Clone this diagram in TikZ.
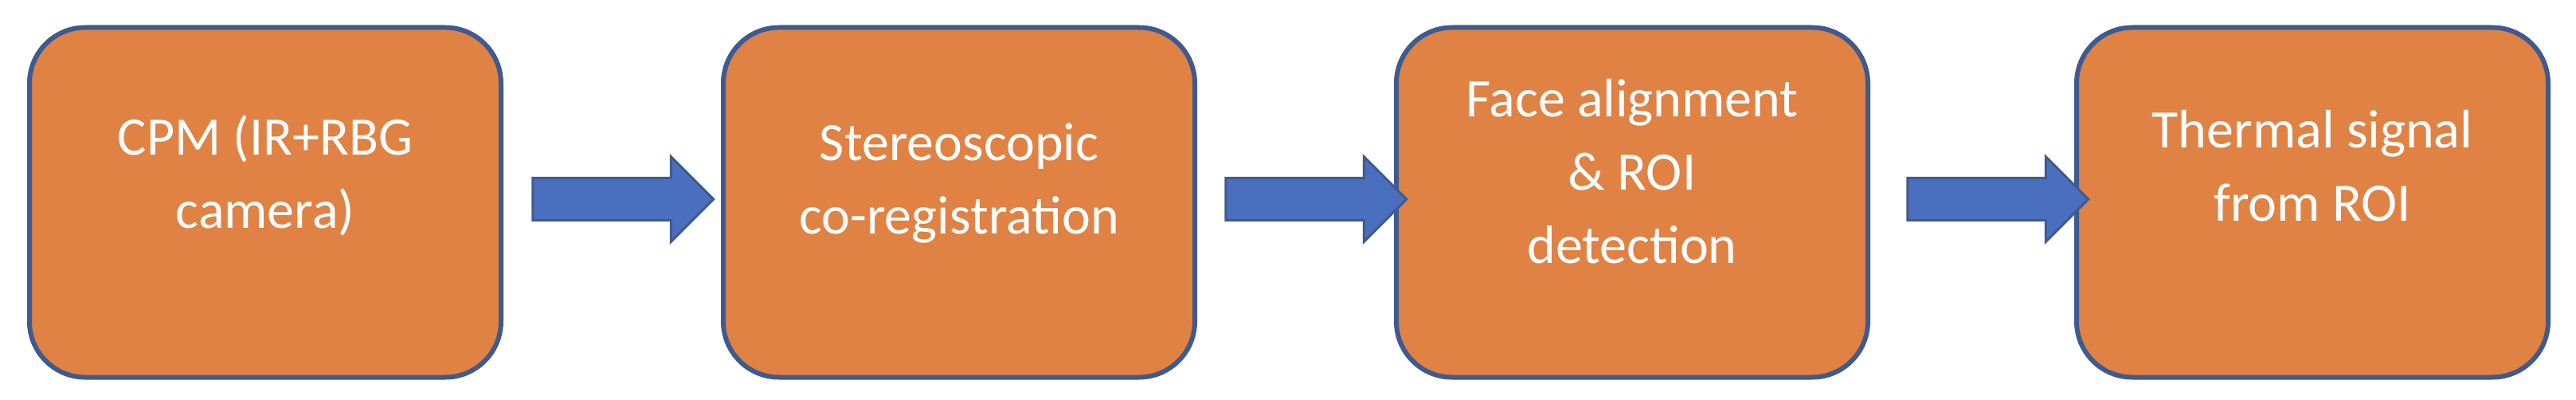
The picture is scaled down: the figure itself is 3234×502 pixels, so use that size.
\documentclass[tikz,border=0pt]{standalone}
\usepackage{fontspec}
\setmainfont{Carlito}
\usetikzlibrary{shapes.arrows,positioning}
\definecolor{boxfill}{HTML}{DF8244}
\definecolor{boxline}{HTML}{3F5A8F}
\definecolor{arrfill}{HTML}{4A6FBE}
\tikzset{
  block/.style = {draw=boxline, line width=6pt, fill=boxfill, rounded corners=70pt,
                  minimum width=592pt, minimum height=439pt},
  label/.style = {text=white, align=center, font=\fontsize{68}{92}\selectfont},
  flow/.style  = {single arrow, draw=boxline, line width=3pt, fill=arrfill,
                  inner xsep=0pt, inner ysep=25pt, single arrow head extend=27pt,
                  single arrow tip angle=90, minimum height=227pt}
}
\begin{document}
\begin{tikzpicture}[x=1pt, y=-1pt]
\useasboundingbox (0,0) rectangle (3234,502);

% Blocks
\node [block] (cpm)   at (333,254)  {};
\node [block] (stereo) at (1204,254) {};
\node [block] (face)  at (2049,254) {};
\node [block] (therm) at (2903,254) {};

% Texts
\node [label] (tcpm)   at (333,220)  {CPM (IR+RBG\\camera)};
\node [label] (tstereo) at (1204,230) {Stereoscopic\\co-registration};
\node [label] (tface)  at (2049,215) {Face alignment\\\& ROI\\detection};
\node [label] (ttherm) at (2903,208) {Thermal signal\\from ROI};

% Arrows
\node [flow] (a1) at (769,250)  {};
\node [flow] (a2) at (1639,250) {};
\node [flow] (a3) at (2495,250) {};

\end{tikzpicture}
\end{document}
